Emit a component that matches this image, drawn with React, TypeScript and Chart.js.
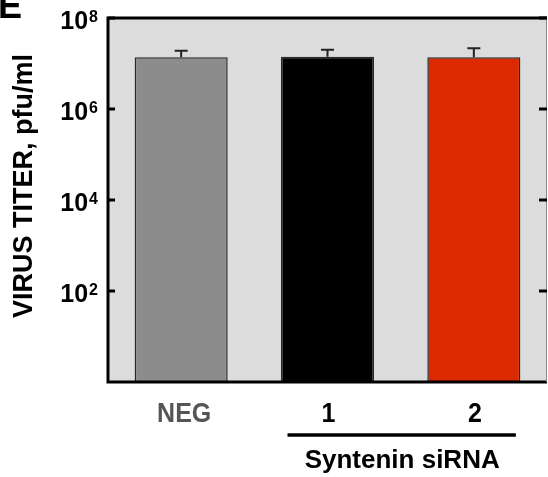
import React, { useEffect, useRef } from "react";
import { Chart, registerables } from "chart.js";

Chart.register(...registerables);

const categories = ["NEG", "1", "2"];
const titerMeans = [1.37e7, 1.4e7, 1.38e7];
const titerErrorTops = [1.9e7, 2.0e7, 2.15e7];
const barColors = ["#8c8c8c", "#000000", "#dc2a00"];
const labelColors = ["#555555", "#000000", "#000000"];
const yTickValues = [1e2, 1e4, 1e6, 1e8];
const yTickExponents = ["2", "4", "6", "8"];
const groupLabel = "Syntenin siRNA";
const groupedCategories = ["1", "2"];
const yTitle = "VIRUS TITER, pfu/ml";
const panelLetter = "E";

const FONT = '"Liberation Sans", Arial, Helvetica, sans-serif';

const decorPlugin = {
  id: "decor",
  beforeDraw(chart: any) {
    const { ctx, chartArea } = chart;
    ctx.save();
    ctx.fillStyle = "#dcdcdc";
    ctx.fillRect(chartArea.left, chartArea.top, chartArea.right - chartArea.left, chartArea.bottom - chartArea.top);
    ctx.restore();
  },
  afterDatasetsDraw(chart: any) {
    const { ctx } = chart;
    const yScale = chart.scales.y;
    const meta = chart.getDatasetMeta(0);
    ctx.save();
    ctx.strokeStyle = "#222";
    ctx.lineWidth = 2;
    meta.data.forEach((el: any, i: number) => {
      const x = el.x;
      const yTop = el.y;
      const yErr = yScale.getPixelForValue(titerErrorTops[i]);
      ctx.beginPath();
      ctx.moveTo(x, yTop);
      ctx.lineTo(x, yErr);
      ctx.moveTo(x - 6.5, yErr);
      ctx.lineTo(x + 6.5, yErr);
      ctx.stroke();
    });
    ctx.restore();
  },
  afterDraw(chart: any) {
    const { ctx, chartArea } = chart;
    const { left, right, top, bottom } = chartArea;
    const yScale = chart.scales.y;
    const xScale = chart.scales.x;
    ctx.save();
    // frame
    ctx.strokeStyle = "#000";
    ctx.lineWidth = 3;
    ctx.beginPath();
    ctx.moveTo(left - 1, top);
    ctx.lineTo(right, top);
    ctx.moveTo(left, top - 1.5);
    ctx.lineTo(left, bottom + 1.5);
    ctx.moveTo(left - 1.5, bottom);
    ctx.lineTo(right, bottom);
    ctx.stroke();
    ctx.strokeStyle = "#888";
    ctx.lineWidth = 1;
    ctx.beginPath();
    ctx.moveTo(right - 0.5, top);
    ctx.lineTo(right - 0.5, bottom);
    ctx.stroke();
    // ticks
    ctx.strokeStyle = "#000";
    ctx.lineWidth = 3;
    yTickValues.forEach((v) => {
      const ty = yScale.getPixelForValue(v);
      ctx.beginPath();
      ctx.moveTo(left, ty);
      ctx.lineTo(left + 7, ty);
      ctx.moveTo(right - 8, ty);
      ctx.lineTo(right, ty);
      ctx.stroke();
    });
    // tick labels
    ctx.fillStyle = "#000";
    ctx.textAlign = "right";
    ctx.textBaseline = "alphabetic";
    yTickValues.forEach((v, i) => {
      const ty = yScale.getPixelForValue(v);
      ctx.font = `bold 16px ${FONT}`;
      const supW = ctx.measureText(yTickExponents[i]).width;
      const rx = left - 10;
      ctx.fillText(yTickExponents[i], rx, ty + 4);
      ctx.font = `bold 25px ${FONT}`;
      ctx.fillText("10", rx - supW - 1, ty + 11);
    });
    // y title
    ctx.save();
    ctx.translate(32, 186);
    ctx.rotate(-Math.PI / 2);
    ctx.textAlign = "center";
    ctx.font = `bold 27px ${FONT}`;
    ctx.fillText(yTitle, 0, 0);
    ctx.restore();
    // x labels
    categories.forEach((c, i) => {
      const x = xScale.getPixelForValue(i);
      ctx.save();
      ctx.translate(x + (i === 0 ? 3 : 1), 422);
      ctx.scale(1, 1.12);
      ctx.textAlign = "center";
      ctx.fillStyle = labelColors[i];
      ctx.font = `bold 25px ${FONT}`;
      ctx.fillText(c, 0, 0);
      ctx.restore();
    });
    // group line and label
    const gi1 = categories.indexOf(groupedCategories[0]);
    const gi2 = categories.indexOf(groupedCategories[groupedCategories.length - 1]);
    const x1 = xScale.getPixelForValue(gi1);
    const x2 = xScale.getPixelForValue(gi2);
    ctx.strokeStyle = "#000";
    ctx.lineWidth = 3.5;
    ctx.beginPath();
    ctx.moveTo(x1 - 40, 435);
    ctx.lineTo(x2 + 42, 435);
    ctx.stroke();
    ctx.save();
    ctx.translate((x1 + x2) / 2 + 1.5, 468);
    ctx.textAlign = "center";
    ctx.fillStyle = "#000";
    ctx.font = `bold 26px ${FONT}`;
    ctx.fillText(groupLabel, 0, 0);
    ctx.restore();
    // panel letter
    ctx.textAlign = "left";
    ctx.font = `bold 36px ${FONT}`;
    ctx.fillText(panelLetter, -2, 18);
    ctx.restore();
  },
};

export default function App() {
  const canvasRef = useRef<HTMLCanvasElement | null>(null);
  useEffect(() => {
    const canvas = canvasRef.current;
    if (!canvas) return;
    const chart = new Chart(canvas, {
      type: "bar",
      data: {
        labels: categories,
        datasets: [
          {
            data: titerMeans,
            backgroundColor: barColors,
            borderColor: "#2a2a2a",
            borderWidth: 1.5,
            barPercentage: 0.636,
            categoryPercentage: 1,
          },
        ],
      },
      options: {
        responsive: false,
        animation: false,
        devicePixelRatio: 1,
        layout: { padding: { left: 108, right: 1, top: 18, bottom: 95 } },
        plugins: { legend: { display: false }, tooltip: { enabled: false } },
        scales: {
          x: { type: "category", display: false },
          y: { type: "logarithmic", min: 1, max: 1e8, display: false },
        },
      },
      plugins: [decorPlugin],
    });
    return () => chart.destroy();
  }, []);
  return (
    <div style={{ position: "absolute", left: 0, top: 0, width: 548, height: 477, background: "#fff" }}>
      <canvas ref={canvasRef} width={548} height={477} style={{ display: "block" }} />
    </div>
  );
}
